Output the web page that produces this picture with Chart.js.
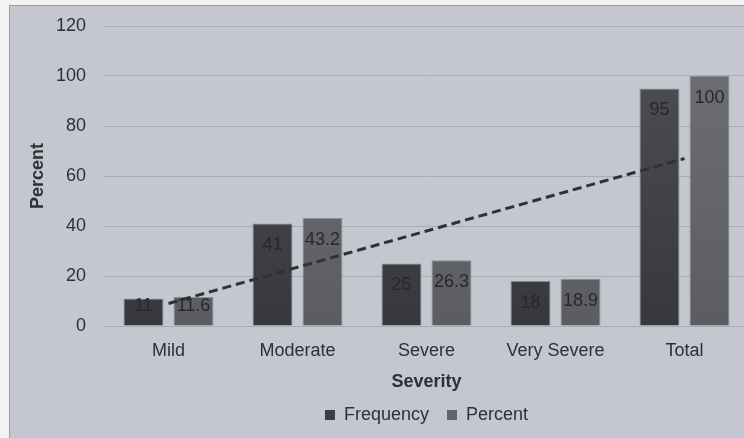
<!DOCTYPE html>
<html>
<head>
<meta charset="utf-8">
<script src="https://cdn.jsdelivr.net/npm/chart.js@4.4.1/dist/chart.umd.min.js"></script>
<style>
  html, body { margin: 0; padding: 0; background: #f3f3f3; overflow: hidden; width: 744px; height: 438px; }
  #frame {
    position: absolute; left: 9px; top: 5px;
    width: 760px; height: 440px;
    background: #c4c7cf;
    border-left: 1px solid #9a9da3;
    border-top: 1px solid #9a9da3;
  }
  canvas { display: block; }
</style>
</head>
<body>
<div id="frame"><canvas id="chart" width="760" height="440"></canvas></div>
<script>
// Severity categories and the two reported series
const categories = ['Mild', 'Moderate', 'Severe', 'Very Severe', 'Total'];
const frequency = [11, 41, 25, 18, 95];
const percent = [11.6, 43.2, 26.3, 18.9, 100];
const yTicks = [0, 20, 40, 60, 80, 100, 120];

// Least-squares linear trend through the Frequency series
function linearTrend(values) {
  const n = values.length;
  const xs = values.map((_, i) => i + 1);
  const mx = xs.reduce((a, b) => a + b, 0) / n;
  const my = values.reduce((a, b) => a + b, 0) / n;
  let sxy = 0, sxx = 0;
  xs.forEach((x, i) => { sxy += (x - mx) * (values[i] - my); sxx += (x - mx) * (x - mx); });
  const slope = sxy / sxx;
  const intercept = my - slope * mx;
  return xs.map(x => intercept + slope * x);
}
const frequencyTrend = linearTrend(frequency);

const FONT = '"Liberation Sans", Arial, sans-serif';
const TEXT = '#2f3033';
const GRID = '#a9acb3';

function barGradient(top, bottom) {
  return (ctx) => {
    const area = ctx.chart.chartArea;
    if (!area) return bottom;
    const g = ctx.chart.ctx.createLinearGradient(0, area.top, 0, area.bottom);
    g.addColorStop(0, top);
    g.addColorStop(1, bottom);
    return g;
  };
}

// Value labels drawn inside the top of each bar
const barValueLabels = {
  id: 'barValueLabels',
  afterDatasetsDraw(chart) {
    const ctx = chart.ctx;
    ctx.save();
    ctx.font = '18px ' + FONT;
    ctx.fillStyle = '#27282b';
    ctx.textAlign = 'center';
    ctx.textBaseline = 'middle';
    chart.data.datasets.forEach((ds, di) => {
      if (ds.type !== 'bar') return;
      const meta = chart.getDatasetMeta(di);
      meta.data.forEach((bar, i) => {
        const y = Math.min(bar.y + 22, bar.base - 19);
        ctx.fillText(String(ds.data[i]), bar.x, y);
      });
    });
    ctx.restore();
  }
};

new Chart(document.getElementById('chart'), {
  data: {
    labels: categories,
    datasets: [
      {
        type: 'line',
        label: 'Linear (Frequency)',
        data: frequencyTrend,
        borderColor: '#303134',
        borderWidth: 3,
        borderDash: [9, 5],
        pointRadius: 0,
        fill: false,
        order: 0
      },
      {
        type: 'bar',
        label: 'Frequency',
        data: frequency,
        backgroundColor: barGradient('#505155', '#37383c'),
        borderColor: '#86888d',
        borderWidth: 1,
        categoryPercentage: 0.775,
        barPercentage: 0.8,
        order: 1
      },
      {
        type: 'bar',
        label: 'Percent',
        data: percent,
        backgroundColor: barGradient('#6e7074', '#5b5d61'),
        borderColor: '#8c8e93',
        borderWidth: 1,
        categoryPercentage: 0.775,
        barPercentage: 0.8,
        order: 1
      }
    ]
  },
  options: {
    responsive: false,
    animation: false,
    layout: { padding: { top: 20, right: 21, bottom: 12, left: 0 } },
    plugins: {
      tooltip: { enabled: false },
      legend: {
        position: 'bottom',
        fullSize: false,
        labels: {
          font: { family: FONT, size: 18 },
          color: TEXT,
          boxWidth: 10,
          boxHeight: 10,
          padding: 18,
          generateLabels: () => [
            { text: 'Frequency', fillStyle: '#3d3e42', strokeStyle: '#3d3e42', lineWidth: 0, datasetIndex: 1, fontColor: TEXT },
            { text: 'Percent', fillStyle: '#636569', strokeStyle: '#636569', lineWidth: 0, datasetIndex: 2, fontColor: TEXT }
          ]
        }
      }
    },
    scales: {
      x: {
        grid: { display: false, drawTicks: false },
        border: { display: true, color: GRID, width: 1 },
        ticks: { font: { family: FONT, size: 18 }, color: TEXT, padding: 14 },
        title: {
          display: true, text: 'Severity',
          font: { family: FONT, size: 18, weight: 'bold' }, color: TEXT,
          padding: { top: 0, bottom: -5 }
        },
        afterFit: (scale) => { scale.height = 62; }
      },
      y: {
        min: 0, max: 120,
        afterBuildTicks: (scale) => { scale.ticks = yTicks.map(v => ({ value: v })); },
        grid: { color: GRID, lineWidth: 1, drawTicks: false },
        border: { display: false },
        ticks: { font: { family: FONT, size: 18 }, color: TEXT, padding: 18 },
        title: {
          display: true, text: 'Percent',
          font: { family: FONT, size: 18, weight: 'bold' }, color: TEXT,
          padding: { top: 17, bottom: 0 }
        },
        afterFit: (scale) => {
          scale.width = 94;
          scale.paddingTop = 11;
          scale.paddingBottom = 11;
        }
      }
    }
  },
  plugins: [barValueLabels]
});
</script>
</body>
</html>
